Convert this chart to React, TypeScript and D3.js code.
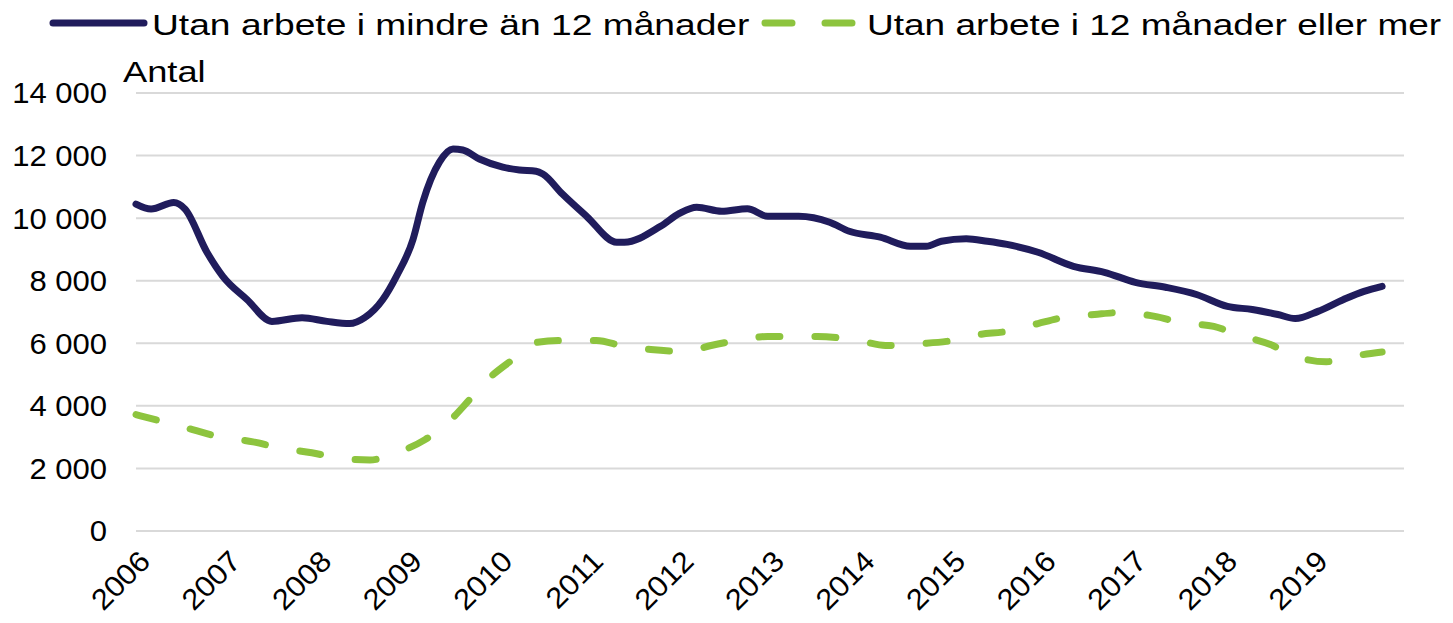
import React from "react";
import * as d3 from "d3";

// Month index (0 = Jan 2006) and values
const shortMonths = [0, 2, 5, 6.5, 9.4, 11.5, 14.7, 18, 22, 25.3, 28.3, 30.3, 32.7, 34.5, 36.7, 38, 40.2, 42, 43.3, 45.5, 48.6, 50.8, 53, 53.9, 56.5, 59.7, 63.7, 64.7, 69.5, 72, 74.3, 77.6, 81, 83.7, 87.8, 91.9, 94.5, 98.6, 102.6, 104.7, 106.7, 110, 112.8, 115.4, 119.5, 124.2, 128.3, 132.4, 136.4, 140.5, 144.6, 147.9, 151.3, 153.6, 156.6, 160, 162.7, 165.1];
const shortValues = [10450, 10290, 10500, 10290, 8910, 8140, 7400, 6700, 6820, 6700, 6630, 6820, 7400, 8140, 9320, 10510, 11790, 12210, 12180, 11890, 11630, 11540, 11500, 11410, 10770, 10060, 9230, 9230, 9740, 10150, 10350, 10220, 10300, 10060, 10060, 9870, 9580, 9390, 9100, 9100, 9260, 9340, 9260, 9160, 8910, 8460, 8270, 7950, 7790, 7560, 7180, 7080, 6920, 6790, 7020, 7400, 7660, 7820];

const longMonths = [0, 3.6, 7.5, 11.1, 15.5, 19, 23.3, 26.7, 31, 34.5, 38.3, 41.3, 44.2, 46.6, 49.9, 52.8, 57, 61, 64.7, 68.2, 72.9, 76.2, 80.4, 83.7, 90.3, 96.2, 99.3, 103.9, 107.4, 111.7, 115.4, 119.5, 122.8, 127, 130.3, 135, 138.5, 142.8, 145.9, 150.3, 153.3, 157.7, 161.1, 165.1];
const longValues = [3720, 3490, 3240, 3010, 2850, 2660, 2500, 2340, 2270, 2500, 2920, 3460, 4200, 4840, 5480, 6020, 6090, 6090, 5900, 5800, 5740, 5930, 6120, 6220, 6220, 6060, 5930, 5990, 6060, 6280, 6380, 6630, 6820, 6920, 6980, 6860, 6660, 6540, 6280, 5960, 5610, 5410, 5580, 5720];

const years = ["2006", "2007", "2008", "2009", "2010", "2011", "2012", "2013", "2014", "2015", "2016", "2017", "2018", "2019"];
const yTicks = [0, 2000, 4000, 6000, 8000, 10000, 12000, 14000];
const seriesNames = ["Utan arbete i mindre än 12 månader", "Utan arbete i 12 månader eller mer"];
const yTitle = "Antal";

const DARK = "#201c5c";
const GREEN = "#8dc43e";
const FONT = "'Liberation Sans', Arial, sans-serif";

export default function App() {
  const W = 1453, H = 623;
  const x = d3.scaleLinear().domain([0, 168]).range([136, 1404]);
  const y = d3.scaleLinear().domain([0, 14000]).range([531, 93]);

  const line = d3
    .line<[number, number]>()
    .x((d) => x(d[0]))
    .y((d) => y(d[1]))
    .curve(d3.curveMonotoneX);

  const shortPath = line(shortMonths.map((m, i) => [m, shortValues[i]]) as [number, number][]) || "";
  const longPath = line(longMonths.map((m, i) => [m, longValues[i]]) as [number, number][]) || "";

  const fmt = (v: number) => d3.format(",")(v).replace(/,/g, " ");

  return (
    <svg
      width={W}
      height={H}
      style={{ position: "absolute", left: 0, top: 0, background: "#fff" }}
      fontFamily={FONT}
    >
      {/* gridlines */}
      {yTicks.map((t) => (
        <line key={t} x1={136} x2={1404} y1={y(t)} y2={y(t)} stroke="#d9d9d9" strokeWidth={2} />
      ))}
      {/* y tick labels */}
      {yTicks.map((t) => (
        <text
          key={"l" + t}
          transform={`translate(107,${y(t)}) scale(1.07,1)`}
          textAnchor="end"
          dy="0.36em"
          fontSize={29}
          fill="#000"
        >
          {fmt(t)}
        </text>
      ))}
      <text transform={`translate(123,82) scale(1.25,1)`} fontSize={29} fill="#000">
        {yTitle}
      </text>
      {/* x labels */}
      {years.map((yr, i) => (
        <text
          key={yr}
          transform={`translate(${x(i * 12) + 16},563) rotate(-45) scale(1.07,1)`}
          textAnchor="end"
          fontSize={29}
          fill="#000"
        >
          {yr}
        </text>
      ))}
      {/* series */}
      <path d={longPath} fill="none" stroke={GREEN} strokeWidth={7} strokeDasharray="21 35" strokeLinecap="round" />
      <path d={shortPath} fill="none" stroke={DARK} strokeWidth={7} strokeLinejoin="round" strokeLinecap="round" />
      {/* legend */}
      <line x1={53} x2={144} y1={23} y2={23} stroke={DARK} strokeWidth={7} strokeLinecap="round" />
      <text transform="translate(152,35) scale(1.24,1)" fontSize={30} fill="#000">
        {seriesNames[0]}
      </text>
      <line x1={765} x2={852} y1={23} y2={23} stroke={GREEN} strokeWidth={7} strokeLinecap="round" strokeDasharray="27 33" />
      <text transform="translate(867,35) scale(1.235,1)" fontSize={30} fill="#000">
        {seriesNames[1]}
      </text>
    </svg>
  );
}
